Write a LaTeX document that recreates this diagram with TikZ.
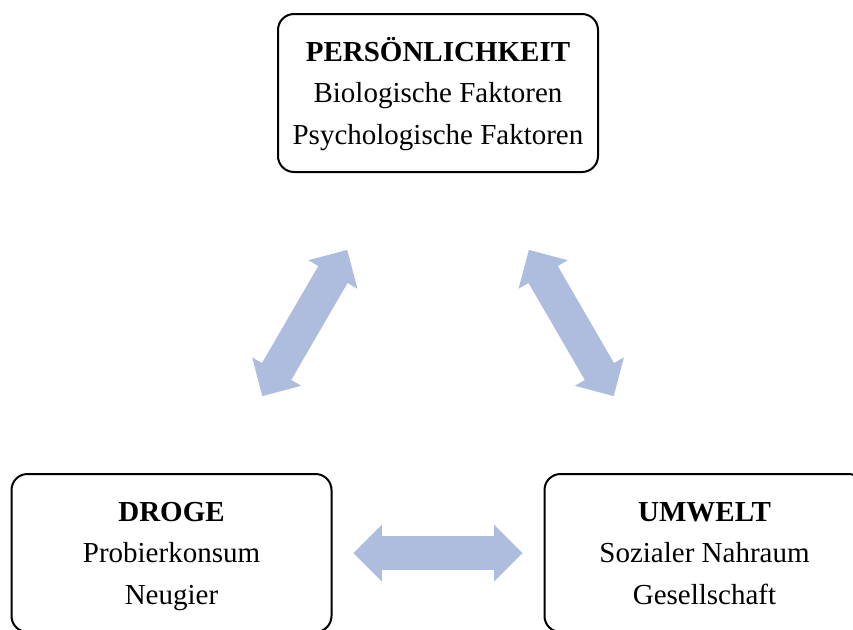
\documentclass[tikz,border=0pt]{standalone}
\usepackage{fontspec}
\setmainfont{Liberation Serif}
\usetikzlibrary{shapes.arrows}
\usepackage{xcolor}
\definecolor{arrowblue}{RGB}{174,188,222}

\begin{document}
\begin{tikzpicture}[
        x=0.5pt, y=-0.5pt,
        box/.style={rectangle, draw, line width=1pt, rounded corners=8pt, minimum width=160pt, minimum height=79pt, align=center, text height=55.2pt, text depth=4pt, font=\fontsize{14.5}{20.8}\selectfont},
        biarrow/.style={double arrow, fill=arrowblue, draw=none, sloped, midway, inner xsep=0pt, inner ysep=8.25pt, minimum height=84.5pt, minimum width=28pt, double arrow head extend=5.75pt, double arrow tip angle=90}
    ]
        \useasboundingbox (0,0) rectangle (853,629);
        \clip (0,0) rectangle (853,629);

        % Boxes
        \node[box] (pers) at (438, 93) {\textbf{PERSÖNLICHKEIT}\\Biologische Faktoren\\Psychologische Faktoren};
        \node[box] (droge) at (171.5, 553) {\textbf{DROGE}\\Probierkonsum\\Neugier};
        \node[box] (umwelt) at (704.5, 553) {\textbf{UMWELT}\\Sozialer Nahraum\\Gesellschaft};

        % Arrows
        \path (droge) -- node[biarrow] (a1) {} (pers);
        \path (pers) -- node[biarrow] (a2) {} (umwelt);
        \path (droge) -- node[biarrow] (a3) {} (umwelt);
    \end{tikzpicture}
\end{document}
